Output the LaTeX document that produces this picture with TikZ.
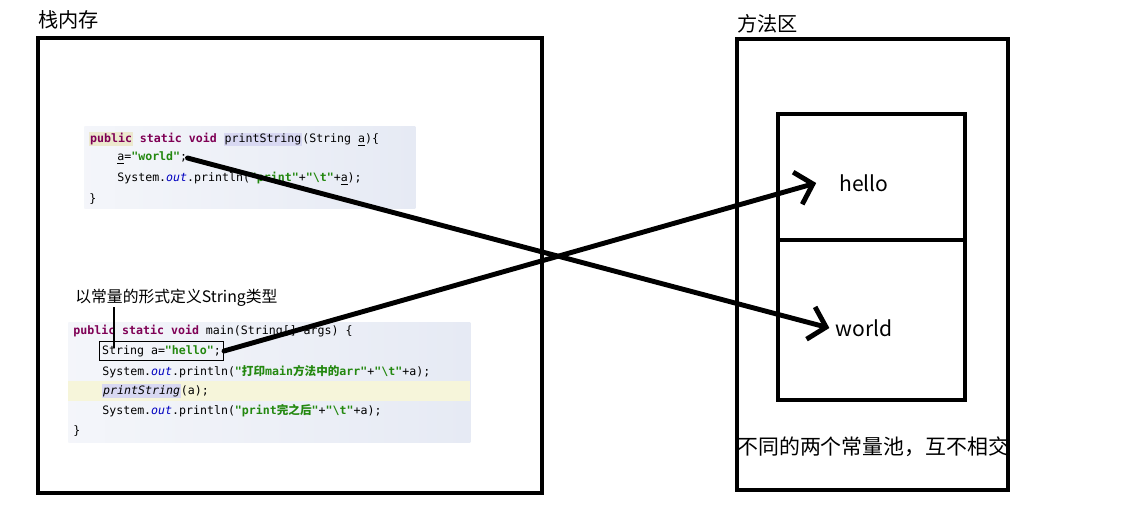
\documentclass[tikz,border=0pt]{standalone}
\usepackage{fontspec}
\usetikzlibrary{arrows.meta,positioning}
\setmonofont{DejaVu Sans Mono}
\newfontfamily\cjk{Noto Sans CJK SC}
\definecolor{kwcol}{HTML}{7F0055}
\definecolor{strcol}{HTML}{23880F}
\definecolor{outcol}{HTML}{0000C0}
\definecolor{codebg}{HTML}{E6EAF4}
\definecolor{linehl}{HTML}{F6F5DA}
\definecolor{wordhl}{HTML}{D8D8F2}
\definecolor{kwhl}{HTML}{ECE9CE}
\setlength{\fboxsep}{0.5pt}
\newcommand{\jkw}[1]{\textcolor{kwcol}{\textbf{#1}}}
\newcommand{\jstr}[1]{\textcolor{strcol}{\textbf{#1}}}
\newcommand{\jout}[1]{\textcolor{outcol}{\textit{#1}}}

\begin{document}
\begin{tikzpicture}[x=0.02cm, y=-0.02cm, font=\cjk\fontsize{11.5}{14}\selectfont, >=Stealth,
  mem/.style={draw, line width=2.3pt, anchor=north west, inner sep=0pt, outer sep=0pt},
  panel/.style={anchor=north west, inner sep=0pt, left color=codebg!45, right color=codebg},
  code/.style={font=\ttfamily\fontsize{6.6}{8}\selectfont, anchor=west, inner sep=0pt},
  ptr/.style={-{Straight Barb[length=9pt,width=19pt]}, line width=2.8pt, line cap=round}]
  \useasboundingbox (0,0) rectangle (1143,513);

  % memory areas
  \node[anchor=west, inner sep=0pt] (stacklbl) at (38,20) {栈内存};
  \node[mem, minimum width=10.08cm, minimum height=9.1cm] (stack) at (38,38) {};
  \node[anchor=west, inner sep=0pt] (methodlbl) at (737,24) {方法区};
  \node[mem, minimum width=5.42cm, minimum height=9.02cm] (method) at (737,39) {};
  \node[mem, minimum width=3.74cm, minimum height=5.72cm] (pool) at (778,114) {};
  \coordinate (mid) at (0,240);
  \draw[line width=2.3pt] (pool.west |- mid) -- (pool.east |- mid);
  \node[font=\cjk\fontsize{12}{14}\selectfont] (hello) at (864,183) {hello};
  \node[font=\cjk\fontsize{12}{14}\selectfont] (world) at (864,328) {world};
  \node[anchor=west, inner sep=0pt, font=\cjk\fontsize{11.9}{14}\selectfont] (disjoint) at (737,447) {不同的两个常量池，互不相交};

  % printString
  \node[panel, minimum width=6.62cm, minimum height=1.64cm] (codeA) at (84,126) {};
  \node[code] (pA1) at (89,139) {\colorbox{kwhl}{\jkw{public}} \jkw{static} \jkw{void} \colorbox{wordhl}{printString}(String \underline{a})\{};
  \node[code] (pA2) at (117,158) {\underline{a}=\jstr{"world"};};
  \node[code] (pA3) at (117,179) {System.\jout{out}.println(\jstr{"print"}+\jstr{"\textbackslash t"}+\underline{a});};
  \node[code] (pA4) at (89,199) {\}};

  % main
  \node[panel, minimum width=8.04cm, minimum height=2.4cm] (codeB) at (68,322) {};
  \node[anchor=north west, inner sep=0pt, fill=linehl, minimum width=8.04cm, minimum height=0.4cm] (band) at (68,381) {};
  \node[code] (mB1) at (73,331) {\jkw{public} \jkw{static} \jkw{void} main(String[] args) \{};
  \node[code, draw, line width=0.6pt, inner xsep=1.5pt, inner ysep=2.3pt] (hellobox) at (99,351) {String a=\jstr{"hello"};};
  \node[code] (mB3) at (102,372) {System.\jout{out}.println(\jstr{"{\cjk 打印}main{\cjk 方法中的}arr"}+\jstr{"\textbackslash t"}+a);};
  \node[code] (mB4) at (102,391) {\colorbox{wordhl}{\textit{printString}}(a);};
  \node[code] (mB5) at (102,411) {System.\jout{out}.println(\jstr{"print{\cjk 完之后}"}+\jstr{"\textbackslash t"}+a);};
  \node[code] (mB6) at (73,431) {\}};

  \node[anchor=west, inner sep=0pt, font=\cjk\fontsize{9}{11}\selectfont] (note) at (75,298) {以常量的形式定义String类型};
  \coordinate (stub) at (114,0);
  \draw[line width=1.2pt] (note.south -| stub) -- ([yshift=-4pt]hellobox.north -| stub);

  % references
  \draw[ptr] (hellobox.east) -- ([xshift=-0.34cm]hello.west);
  \draw[ptr] (pA2.east) -- (world.west);
\end{tikzpicture}
\end{document}
